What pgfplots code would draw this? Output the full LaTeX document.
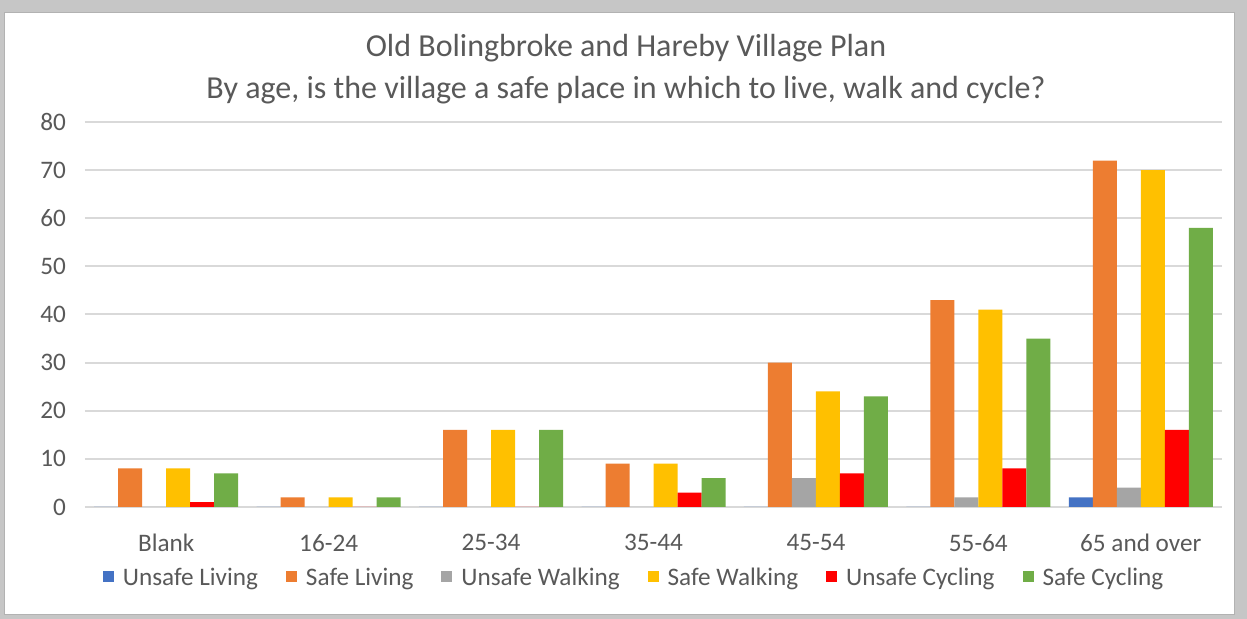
\documentclass[border=0pt]{standalone}
\usepackage{pgfplots}
\pgfplotsset{compat=1.18}
\usepackage{fontspec}
\setmainfont{Carlito}
\definecolor{cBlue}{HTML}{4472C4}
\definecolor{cOrange}{HTML}{ED7D31}
\definecolor{cGray}{HTML}{A5A5A5}
\definecolor{cYellow}{HTML}{FFC000}
\definecolor{cRed}{HTML}{FF0000}
\definecolor{cGreen}{HTML}{70AD47}
\definecolor{gridc}{HTML}{D9D9D9}
\definecolor{txt}{HTML}{595959}
\begin{document}
\begin{tikzpicture}
% frame (1px = 0.5pt)
\fill[gray!45] (0,0) rectangle (623.5pt,309.5pt);
\fill[white] (2pt,2pt) rectangle (617pt,303pt);
\draw[gray!60, line width=0.5pt] (2pt,2pt) rectangle (617pt,303pt);
\node[text=txt, font=\fontsize{16}{21}\selectfont, align=center] at (313pt,275pt)
  {Old Bolingbroke and Hareby Village Plan\\By age, is the village a safe place in which to live, walk and cycle?};
\begin{axis}[
  at={(42.5pt,56pt)}, anchor=south west,
  scale only axis, width=568.5pt, height=192.5pt,
  ybar=0pt, bar width=12pt,
  xmin=-0.5, xmax=6.5, ymin=0, ymax=80,
  ytick={0,10,...,80},
  xtick={0,1,2,3,4,5,6},
  xticklabels={Blank,16-24,25-34,35-44,45-54,55-64,65 and over},
  axis line style={draw=none},
  axis x line*=bottom,
  major tick length=0pt,
  ymajorgrids, grid style={gridc, line width=1pt},
  tick label style={text=txt, font=\fontsize{12.6}{15}\selectfont},
  /pgf/number format/assume math mode=true,
  xticklabel style={yshift=-10pt},
  yticklabel style={xshift=-6pt},
  legend columns=6,
  legend style={at={(0.482,-0.184)}, anchor=center, draw=none, fill=none,
    font=\fontsize{12.6}{15}\selectfont, text=txt,
    nodes={inner xsep=0pt},
    /tikz/every odd column/.append style={column sep=4.5pt},
    /tikz/every even column/.append style={column sep=14pt}},
  legend image code/.code={\fill[#1] (0pt,-2.3pt) rectangle (5.5pt,3.2pt);},
  every axis plot/.append style={draw=none},
]
\addplot[fill=cBlue] coordinates {(0,0) (1,0) (2,0) (3,0) (4,0) (5,0) (6,2)};
\addplot[fill=cOrange] coordinates {(0,8) (1,2) (2,16) (3,9) (4,30) (5,43) (6,72)};
\addplot[fill=cGray] coordinates {(0,0) (1,0) (2,0) (3,0) (4,6) (5,2) (6,4)};
\addplot[fill=cYellow] coordinates {(0,8) (1,2) (2,16) (3,9) (4,24) (5,41) (6,70)};
\addplot[fill=cRed] coordinates {(0,1) (1,0) (2,0) (3,3) (4,7) (5,8) (6,16)};
\addplot[fill=cGreen] coordinates {(0,7) (1,2) (2,16) (3,6) (4,23) (5,35) (6,58)};
\legend{Unsafe Living,Safe Living,Unsafe Walking,Safe Walking,Unsafe Cycling,Safe Cycling}
\end{axis}
\end{tikzpicture}
\end{document}
